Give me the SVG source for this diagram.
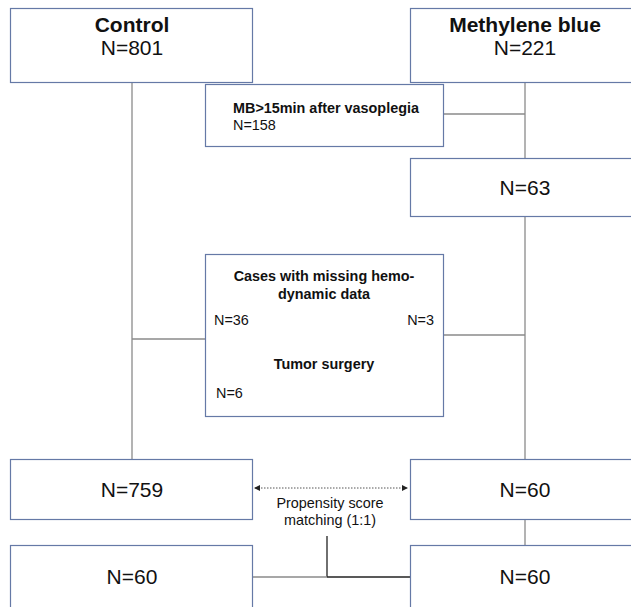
<svg xmlns="http://www.w3.org/2000/svg" width="631" height="607" viewBox="0 0 631 607">
<defs>
<style>
.box{fill:#fff;stroke:#6579a6;stroke-width:1.2}
.ln{stroke:#8a8a8a;stroke-width:1.3;fill:none}
.blk{stroke:#222;stroke-width:1.3;fill:none}
text{font-family:"Liberation Sans",Arial,sans-serif;fill:#111}
.big{font-size:21px;text-anchor:middle}
.bigb{font-size:21px;font-weight:bold;text-anchor:middle}
.sb{font-size:14.4px;font-weight:bold}
.sm{font-size:14.4px}
.lab{font-size:14.4px;text-anchor:middle}
</style>
<marker id="ah" markerWidth="6" markerHeight="6" refX="5" refY="3" orient="auto-start-reverse" markerUnits="userSpaceOnUse">
<path d="M0,0 L6,3 L0,6 Z" fill="#222"/>
</marker>
</defs>
<g id="connectors">
<line class="ln" x1="132" y1="82" x2="132" y2="459"/>
<line class="ln" x1="525" y1="82" x2="525" y2="158"/>
<line class="ln" x1="443" y1="114" x2="525" y2="114"/>
<line class="ln" x1="525" y1="216" x2="525" y2="459"/>
<line class="ln" x1="132" y1="339" x2="205" y2="339"/>
<line class="ln" x1="443" y1="335" x2="525" y2="335"/>
<line x1="255" y1="488" x2="407" y2="488" stroke="#555" stroke-width="1" stroke-dasharray="1.5,1.5" marker-start="url(#ah)" marker-end="url(#ah)"/>
<line class="ln" x1="525" y1="519" x2="525" y2="545"/>
<line class="blk" x1="327" y1="536" x2="327" y2="577"/>
<line class="ln" x1="252" y1="577" x2="327" y2="577"/>
<line class="blk" x1="327" y1="577" x2="410" y2="577"/>
</g>
<g id="control">
<rect class="box" x="10.5" y="8.5" width="242" height="74"/>
<text class="bigb" x="132" y="32">Control</text>
<text class="big" x="132" y="55">N=801</text>
</g>
<g id="mb">
<rect class="box" x="410.5" y="8.5" width="230" height="74"/>
<text class="bigb" x="525" y="32">Methylene blue</text>
<text class="big" x="525" y="55">N=221</text>
</g>
<g id="excl1">
<rect class="box" x="205.5" y="84.5" width="238" height="62"/>
<text class="sb" x="233" y="113">MB&gt;15min after vasoplegia</text>
<text class="sm" x="233" y="130">N=158</text>
</g>
<g id="n63">
<rect class="box" x="410.5" y="158.5" width="230" height="58"/>
<text class="big" x="525" y="195">N=63</text>
</g>
<g id="excl2">
<rect class="box" x="205.5" y="254.5" width="238" height="162"/>
<text class="sb" x="324" y="281" text-anchor="middle">Cases with missing hemo-</text>
<text class="sb" x="324" y="299" text-anchor="middle">dynamic data</text>
<text class="sm" x="214" y="325">N=36</text>
<text class="sm" x="434" y="325" text-anchor="end">N=3</text>
<text class="sb" x="324" y="369" text-anchor="middle">Tumor surgery</text>
<text class="sm" x="216" y="398">N=6</text>
</g>
<g id="c759">
<rect class="box" x="10.5" y="459.5" width="242" height="60"/>
<text class="big" x="132" y="497">N=759</text>
</g>
<g id="mb60">
<rect class="box" x="410.5" y="459.5" width="230" height="60"/>
<text class="big" x="525" y="497">N=60</text>
</g>
<g id="psm">
<text class="lab" x="330" y="508">Propensity score</text>
<text class="lab" x="330" y="525">matching (1:1)</text>
</g>
<g id="c60">
<rect class="box" x="10.5" y="545.5" width="242" height="70"/>
<text class="big" x="132" y="584">N=60</text>
</g>
<g id="mb60b">
<rect class="box" x="410.5" y="545.5" width="230" height="70"/>
<text class="big" x="525" y="584">N=60</text>
</g>
</svg>
